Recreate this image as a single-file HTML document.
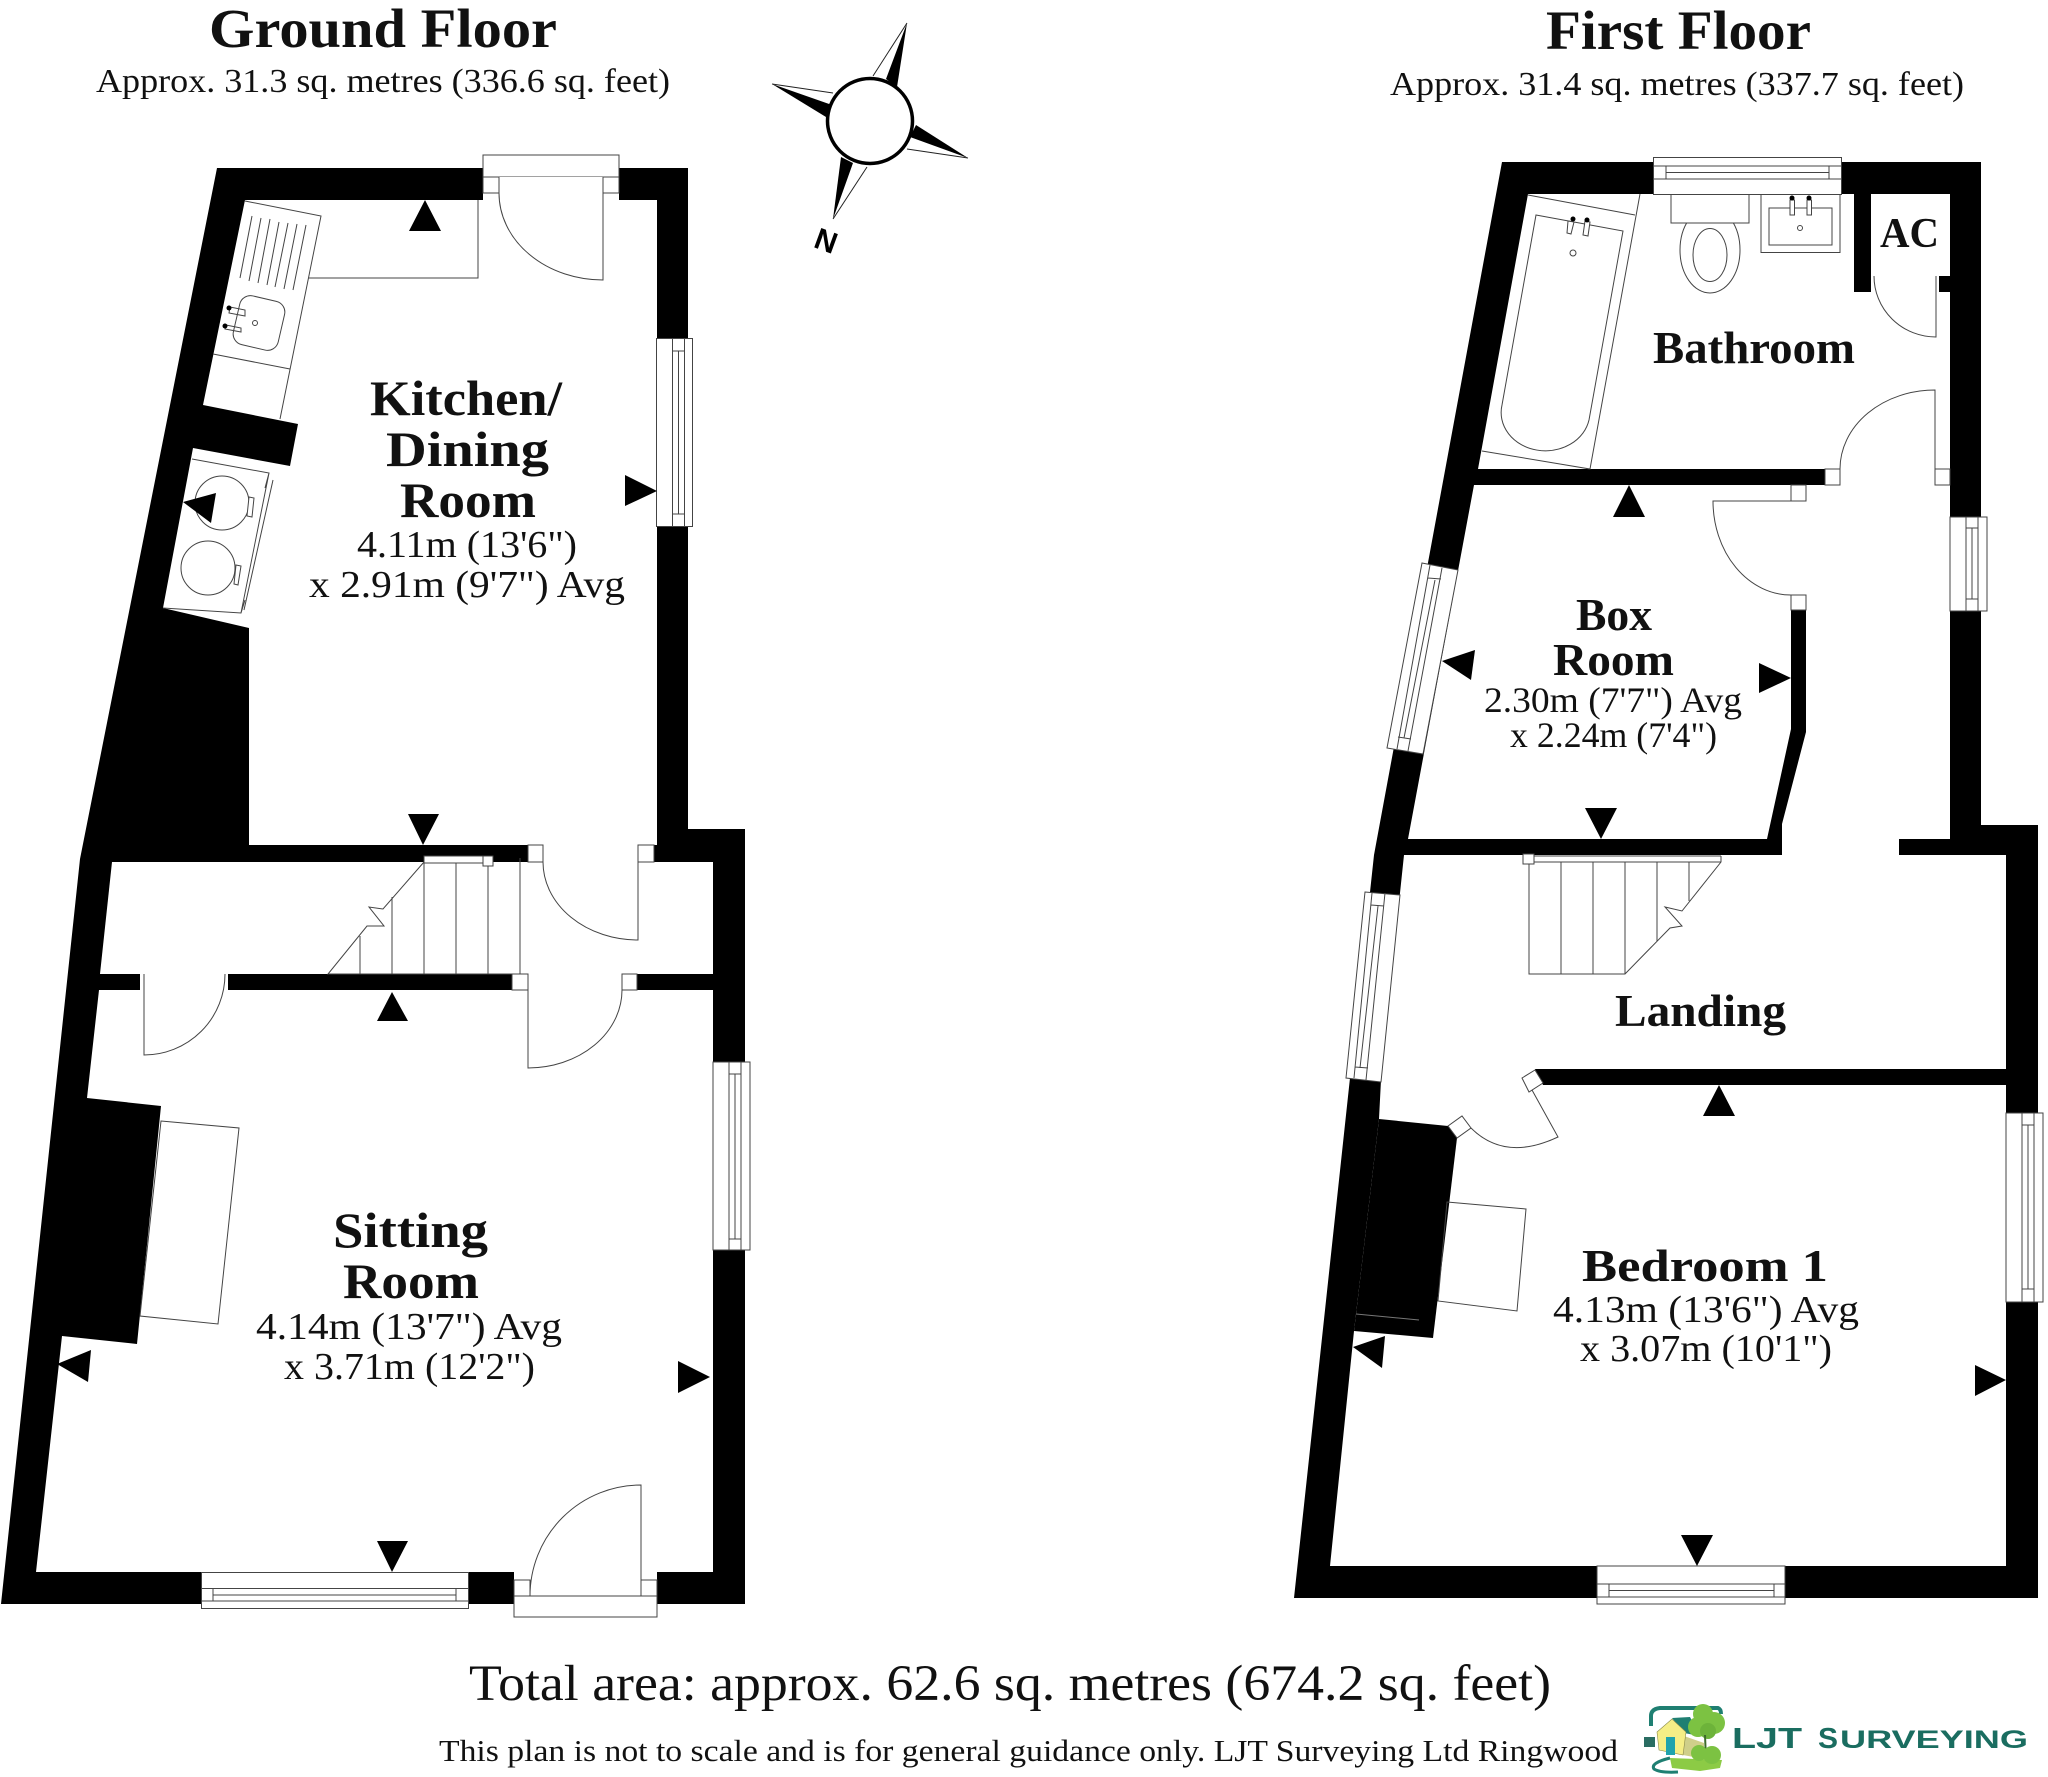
<!DOCTYPE html>
<html lang="en"><head><meta charset="utf-8"><title>Floor plan</title>
<style>
html,body{margin:0;padding:0;background:#fff}
svg{display:block}
text{font-family:"Liberation Serif",serif;fill:#111}
.b{font-weight:bold}
.t{fill:none;stroke:#444;stroke-width:1}
.w{fill:#fff;stroke:#444;stroke-width:1}
.k{fill:#000;stroke:none}
.f{fill:#fff;stroke:none}
</style></head><body>
<svg xmlns="http://www.w3.org/2000/svg" width="2048" height="1777" viewBox="0 0 2048 1777">
<rect width="2048" height="1777" fill="#fff"/>

<!-- GROUND FLOOR -->
<polygon class="k" points="217,168 688,168 688,829 745,829 745,1604 1,1604 80,859"/>
<polygon class="f" points="245,200 657,200 657,845 249,845 249,628 163,608 193,448 290,466 298,424 203,405"/>
<polygon class="f" points="112,862 713,862 713,974 100,974"/>
<polygon class="f" points="99,990 713,990 713,1572 36,1572 62,1336 137,1344 161,1106 87,1098"/>
<rect class="f" x="528" y="845" width="126" height="18"/>
<rect class="f" x="140" y="973" width="88" height="18"/>
<rect class="f" x="512" y="973" width="125" height="18"/>

<!-- kitchen back door -->
<rect class="w" x="483" y="155" width="136" height="22"/>
<rect class="f" x="483" y="177" width="136" height="24"/>
<rect class="w" x="483" y="177" width="16" height="16"/><rect class="w" x="603" y="177" width="16" height="16"/>
<path class="t" d="M603,193V280A104,87 0 0 1 499,193"/>
<!-- worktop -->
<path class="t" d="M245,201L321,216L280,419M308,278H478V200M213,354L290,369"/>
<path class="t" d="M252,216L240,278M261,218L249,281M270,219L258,283M279,222L267,285M288,223L275,287M297,224L284,289M306,225L293,290"/>
<rect class="t" x="236" y="298" width="46" height="50" rx="11" transform="rotate(13 259 323)"/>
<circle class="t" cx="255" cy="323" r="2.5"/>
<path class="t" d="M230,307L245,310V316L229,313ZM226,325L241,328V332L225,329Z"/>
<circle cx="229" cy="308" r="2.5" fill="#000"/><circle cx="225" cy="326" r="2.5" fill="#000"/>
<!-- appliances -->
<path class="t" d="M192,459L269,473L241,613L163,608M273,480L244,610M265,488L269,473M241,613L245,600"/>
<circle class="t" cx="222" cy="503" r="27"/><circle class="t" cx="208" cy="568" r="27"/>
<path class="w" d="M249,497L254,498L252,517L247,516Z"/><path class="w" d="M236,565L241,566L238,585L234,584Z"/>
<!-- stairs -->
<path class="t" d="M424,862L383,909L369,907L384,926L367,926L328,974H520V858M424,862V974M456,862V974M488,862V974M392,897V974M360,936V974"/>
<rect class="w" x="424" y="856" width="69" height="7"/><rect class="w" x="483" y="856" width="10" height="10"/>
<!-- hall door -->
<rect class="w" x="528" y="845" width="15" height="17"/><rect class="w" x="638" y="845" width="16" height="17"/>
<path class="t" d="M638,862V940A95,78 0 0 1 543,862"/>
<!-- sitting doors -->
<path class="t" d="M144,974V1055A81,81 0 0 0 225,974"/>
<rect class="w" x="512" y="974" width="16" height="16"/><rect class="w" x="622" y="974" width="15" height="16"/>
<path class="t" d="M528,990V1068A94,78 0 0 0 622,990"/>
<!-- hearth -->
<polygon class="t" points="161,1121 239,1128 218,1324 140,1316"/>
<!-- kitchen window -->
<rect class="w" x="656.5" y="338.5" width="36" height="188"/>
<path class="t" d="M672.5,338V527M684.5,338V527M678.5,351V514M672,351H685M672,514H685"/>
<!-- sitting right window -->
<rect class="w" x="713" y="1062" width="37" height="188"/>
<path class="t" d="M729,1062V1250M741,1062V1250M735,1074V1239M729,1074H741M729,1239H741"/>
<!-- sitting bottom window -->
<rect class="w" x="201.5" y="1572.5" width="267" height="36"/>
<path class="t" d="M201,1588.5H468M201,1601H468M213,1595H456M213,1588V1601M456,1588V1601"/>
<!-- front door -->
<rect class="f" x="514" y="1572" width="143" height="24"/>
<rect class="w" x="514" y="1596" width="143" height="21"/>
<rect class="w" x="514" y="1580" width="16" height="16"/><rect class="w" x="641" y="1580" width="16" height="16"/>
<path class="t" d="M641,1580V1485A111,111 0 0 0 530,1596"/>
<!-- ground arrows -->
<g fill="#000">
<polygon points="425,200 409,231 441,231"/>
<polygon points="657,491 625,475 625,506"/>
<polygon points="423,845 408,814 439,814"/>
<polygon points="183,502 216,493 211,523"/>
<polygon points="392,992 377,1021 408,1021"/>
<polygon points="710,1377 678,1361 678,1393"/>
<polygon points="392,1572 377,1541 408,1541"/>
<polygon points="57,1364 91,1350 88,1382"/>
</g>

<!-- COMPASS -->
<g fill="#000">
<polygon points="907,23 886,79 897,87"/>
<polygon points="968,158 916,125 910,137"/>
<polygon points="833,219 841,157 853,163"/>
<polygon points="772,84 832,105 826,117"/>
</g>
<g fill="#fff" stroke="#222" stroke-width="1">
<path d="M907,23L873,76"/><path d="M968,158L907,149"/><path d="M833,219L867,167"/><path d="M772,84L833,93"/>
</g>
<circle cx="870" cy="121" r="42.5" fill="#fff" stroke="#000" stroke-width="3.5"/>
<text x="826" y="251" font-size="30" text-anchor="middle" transform="rotate(20 826 241)" style="font-family:'Liberation Sans',sans-serif;font-weight:bold;fill:#000">N</text>

<!-- FIRST FLOOR -->
<polygon class="k" points="1502,162 1981,162 1981,825 2038,825 2038,1598 1294,1598 1374,855"/>
<polygon class="f" points="1528,194 1950,194 1950,839 1899,839 1899,855 2006,855 2006,1566 1330,1566 1354,1331 1379,1119 1381,1080 1400,893 1404,855 1408,839 1474,485 1478,469"/>
<!-- inner walls -->
<polygon class="k" points="1470,469 1825,469 1825,485 1470,485"/>
<rect class="k" x="1854" y="194" width="17" height="98"/>
<rect class="k" x="1939" y="276" width="12" height="16"/>
<polygon class="k" points="1390,839 1767,839 1791,729 1791,610 1806,610 1806,732 1782,824 1782,855 1390,855"/>
<polygon class="k" points="1535,1069 2007,1069 2007,1085 1543,1085"/>
<polygon class="k" points="1379,1119 1448,1126 1457,1138 1433,1338 1354,1331"/>
<path d="M1356,1314L1419,1320" stroke="#777" stroke-width="1" fill="none"/>

<!-- top window -->
<rect class="w" x="1653.5" y="157.5" width="188" height="37"/>
<path class="t" d="M1653,166H1842M1653,179H1842M1666,172.5H1829M1666,166V179M1829,166V179"/>
<!-- bath -->
<path class="t" d="M1640,194L1590,469L1482,451M1528,195L1635,215"/>
<path class="t" d="M1536,215L1623,231L1589,420A44,38 0 0 1 1502,405Z"/>
<path class="w" d="M1568,221L1574,222L1571,234L1567,233ZM1585,221L1590,222L1588,236L1583,235Z"/>
<circle cx="1573" cy="219" r="2.5" fill="#000"/><circle cx="1587" cy="220" r="2.5" fill="#000"/>
<circle class="t" cx="1573" cy="253" r="3"/>
<!-- toilet -->
<ellipse class="w" cx="1710" cy="250" rx="30" ry="43"/>
<ellipse class="t" cx="1710" cy="255" rx="17" ry="26.5"/>
<rect class="w" x="1671" y="194.5" width="78" height="28.5"/>
<!-- basin -->
<rect class="t" x="1761" y="194.5" width="79" height="58"/>
<rect class="t" x="1769" y="208" width="63" height="37"/>
<path class="w" d="M1790,200H1794.5V215H1790ZM1807,200H1811.5V215H1807Z"/>
<circle cx="1792" cy="198" r="2.5" fill="#000"/><circle cx="1809" cy="198" r="2.5" fill="#000"/>
<circle class="t" cx="1800" cy="228" r="2.5"/>
<!-- AC door -->
<path class="t" d="M1936,276V337A62,61 0 0 1 1874,276"/>
<!-- bathroom door -->
<rect class="w" x="1825" y="469" width="15" height="16"/><rect class="w" x="1935" y="469" width="15" height="16"/>
<path class="t" d="M1935,469V390A95,79 0 0 0 1840,469"/>
<!-- box door -->
<rect class="w" x="1791" y="485" width="15" height="16"/><rect class="w" x="1791" y="595" width="15" height="15"/>
<path class="t" d="M1791,501H1713A78,94 0 0 0 1791,595"/>
<!-- windows -->
<polygon class="w" points="1422,563 1458,570 1423,754 1387,748"/>
<path class="t" d="M1430,565L1397,749M1442,568L1408,751M1435,580L1404,738M1428,578L1441,579M1398,737L1411,739"/>
<polygon class="w" points="1365,892 1400,895 1381,1082 1346,1078"/>
<path class="t" d="M1372,893L1354,1078M1385,893L1366,1080M1378,906L1360,1068M1371,905L1384,906M1355,1067L1368,1068"/>
<rect class="w" x="1950" y="517" width="37" height="94"/>
<path class="t" d="M1966,517V611M1978,517V611M1972,528V599M1966,528H1978M1966,599H1978"/>
<rect class="w" x="2006" y="1113" width="37" height="189"/>
<path class="t" d="M2022,1113V1302M2034,1113V1302M2028,1125V1289M2022,1125H2034M2022,1289H2034"/>
<rect class="w" x="1597" y="1566" width="188" height="38"/>
<path class="t" d="M1597,1584H1785M1597,1597H1785M1609,1590.5H1774M1609,1584V1597M1774,1584V1597"/>
<!-- stairs -->
<path class="t" d="M1529,856H1721M1529,862H1721M1721,856V862L1682,911L1665,907L1682,926L1670,928L1625,974H1529V858M1561,862V974M1593,862V974M1625,862V974M1657,862V941M1689,862V901"/>
<rect class="w" x="1523" y="854" width="11" height="10"/>
<!-- bedroom door -->
<polygon class="w" points="1448,1126 1462,1116 1471,1128 1457,1138"/>
<polygon class="w" points="1535,1070 1522,1078 1529,1092 1543,1083"/>
<path class="t" d="M1532,1090L1558,1137Q1505,1162 1471,1128"/>
<!-- hearth -->
<polygon class="t" points="1447,1202 1526,1209 1517,1311 1438,1301"/>
<!-- first arrows -->
<g fill="#000">
<polygon points="1629,485 1613,517 1645,517"/>
<polygon points="1442,661 1475,650 1471,680"/>
<polygon points="1791,678 1759,663 1759,693"/>
<polygon points="1601,839 1585,808 1617,808"/>
<polygon points="1719,1085 1703,1116 1735,1116"/>
<polygon points="1353,1347 1385,1336 1382,1368"/>
<polygon points="2006,1380 1975,1365 1975,1396"/>
<polygon points="1697,1566 1681,1535 1713,1535"/>
</g>

<!-- TEXT GROUND -->
<text class="b" x="209" y="47" font-size="55" textLength="348" lengthAdjust="spacingAndGlyphs">Ground Floor</text>
<text x="96" y="92" font-size="34" textLength="574" lengthAdjust="spacingAndGlyphs">Approx. 31.3 sq. metres (336.6 sq. feet)</text>
<text class="b" x="370" y="415" font-size="50" textLength="192" lengthAdjust="spacingAndGlyphs">Kitchen/</text>
<text class="b" x="386" y="466" font-size="50" textLength="163" lengthAdjust="spacingAndGlyphs">Dining</text>
<text class="b" x="400" y="517" font-size="50" textLength="136" lengthAdjust="spacingAndGlyphs">Room</text>
<text x="357" y="557" font-size="38" textLength="220" lengthAdjust="spacingAndGlyphs">4.11m (13'6")</text>
<text x="309" y="597" font-size="38" textLength="316" lengthAdjust="spacingAndGlyphs">x 2.91m (9'7") Avg</text>
<text class="b" x="333" y="1247" font-size="50" textLength="155" lengthAdjust="spacingAndGlyphs">Sitting</text>
<text class="b" x="343" y="1298" font-size="50" textLength="136" lengthAdjust="spacingAndGlyphs">Room</text>
<text x="256" y="1339" font-size="38" textLength="306" lengthAdjust="spacingAndGlyphs">4.14m (13'7") Avg</text>
<text x="284" y="1379" font-size="38" textLength="251" lengthAdjust="spacingAndGlyphs">x 3.71m (12'2")</text>

<!-- TEXT FIRST -->
<text class="b" x="1546" y="49" font-size="55" textLength="265" lengthAdjust="spacingAndGlyphs">First Floor</text>
<text x="1390" y="95" font-size="34" textLength="574" lengthAdjust="spacingAndGlyphs">Approx. 31.4 sq. metres (337.7 sq. feet)</text>
<text class="b" x="1880" y="247" font-size="42" textLength="59" lengthAdjust="spacingAndGlyphs">AC</text>
<text class="b" x="1653" y="363" font-size="46" textLength="202" lengthAdjust="spacingAndGlyphs">Bathroom</text>
<text class="b" x="1576" y="630" font-size="46" textLength="76" lengthAdjust="spacingAndGlyphs">Box</text>
<text class="b" x="1553" y="675" font-size="46" textLength="121" lengthAdjust="spacingAndGlyphs">Room</text>
<text x="1484" y="712" font-size="36" textLength="258" lengthAdjust="spacingAndGlyphs">2.30m (7'7") Avg</text>
<text x="1510" y="747" font-size="36" textLength="207" lengthAdjust="spacingAndGlyphs">x 2.24m (7'4")</text>
<text class="b" x="1615" y="1026" font-size="46" textLength="171" lengthAdjust="spacingAndGlyphs">Landing</text>
<text class="b" x="1582" y="1281" font-size="46" textLength="246" lengthAdjust="spacingAndGlyphs">Bedroom 1</text>
<text x="1553" y="1322" font-size="38" textLength="306" lengthAdjust="spacingAndGlyphs">4.13m (13'6") Avg</text>
<text x="1580" y="1361" font-size="38" textLength="252" lengthAdjust="spacingAndGlyphs">x 3.07m (10'1")</text>

<!-- FOOTER -->
<text x="469" y="1700" font-size="51" textLength="1082" lengthAdjust="spacingAndGlyphs">Total area: approx. 62.6 sq. metres (674.2 sq. feet)</text>
<text x="439" y="1761" font-size="31" textLength="1179" lengthAdjust="spacingAndGlyphs">This plan is not to scale and is for general guidance only. LJT Surveying Ltd Ringwood</text>

<!-- LOGO -->
<g>
<path d="M1651,1726V1716Q1651,1709 1660,1708H1718Q1721,1709 1721,1714" fill="none" stroke="#1f7f72" stroke-width="4"/>
<path d="M1644,1737H1655V1747H1644Z" fill="#2a6d62"/>
<polygon points="1672,1718 1690,1717 1700,1736 1684,1733" fill="#1f7f72"/>
<polygon points="1684,1736 1704,1743 1704,1759 1683,1755" fill="#cfcf8a"/>
<polygon points="1657,1732 1672,1719 1686,1732 1683,1755 1659,1750" fill="#f5ee86" stroke="#8a8a4a" stroke-width="0.6"/>
<rect x="1666" y="1737" width="9" height="18" fill="#1fa3ad"/>
<circle cx="1703" cy="1714" r="10" fill="#7cc242"/><circle cx="1714" cy="1723" r="11" fill="#7cc242"/><circle cx="1698" cy="1727" r="10" fill="#7cc242"/><circle cx="1708" cy="1731" r="8" fill="#6db33a"/>
<path d="M1705,1735L1706,1760" stroke="#3d6b2a" stroke-width="2" fill="none"/>
<polygon points="1670,1758 1722,1760 1720,1768 1700,1771 1672,1768" fill="#8ccb45"/>
<circle cx="1699" cy="1753" r="8" fill="#7cc242"/><circle cx="1712" cy="1755" r="9" fill="#7cc242"/>
<path d="M1670,1758Q1650,1763 1654,1769Q1660,1773 1678,1772" fill="none" stroke="#1f7f72" stroke-width="3"/>
<text x="1732" y="1748" font-size="29" textLength="70" lengthAdjust="spacingAndGlyphs" style="font-family:'Liberation Sans',sans-serif;font-weight:bold;fill:#1a6d60">LJT</text>
<text x="1818" y="1748" font-size="29" textLength="20" lengthAdjust="spacingAndGlyphs" style="font-family:'Liberation Sans',sans-serif;font-weight:bold;fill:#1a6d60">S</text>
<text x="1840" y="1748" font-size="25" textLength="188" lengthAdjust="spacingAndGlyphs" style="font-family:'Liberation Sans',sans-serif;font-weight:bold;fill:#1a6d60">URVEYING</text>
</g>
</svg>
</body></html>
